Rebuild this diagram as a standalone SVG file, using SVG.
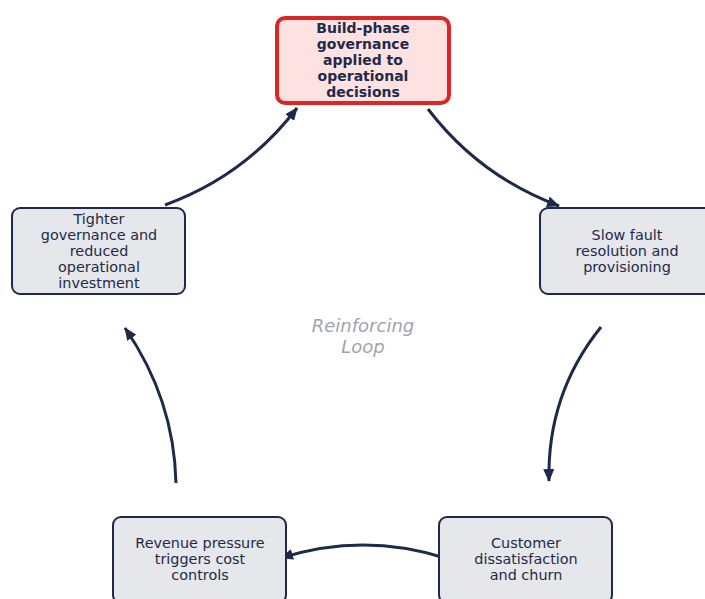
<svg xmlns="http://www.w3.org/2000/svg" width="705" height="599" viewBox="0 0 705 599">
  <style>
    .node rect { fill: #e5e7eb; stroke: #1e2a4a; stroke-width: 2; }
    .node.focus rect { fill: #fee2e2; stroke: #dc2626; stroke-width: 4; }
    .node text { font-family: "DejaVu Sans", sans-serif; font-size: 14.4px; fill: #1e2a4a; text-anchor: middle; }
    .node.focus text { font-weight: bold; font-size: 14px; }
    .link { fill: none; stroke: #1e2a4a; stroke-width: 3; marker-end: url(#head); }
    .caption { font-family: "DejaVu Sans", sans-serif; font-size: 18px; font-style: italic; fill: #a0a4ae; text-anchor: middle; }
  </style>
  <defs>
    <marker id="head" viewBox="0 0 13 11" refX="12" refY="5.5" markerWidth="13" markerHeight="11" markerUnits="userSpaceOnUse" orient="auto">
      <path d="M0,0 L13,5.5 L0,11 Z" fill="#1e2a4a"/>
    </marker>
  </defs>

  <rect width="705" height="599" fill="#ffffff"/>

  <!-- loop label -->
  <text class="caption" x="363" y="332">Reinforcing</text>
  <text class="caption" x="363" y="353">Loop</text>

  <!-- connectors -->
  <g id="connectors">
    <path class="link" d="M428,109 Q479,176 559,206"/>
    <path class="link" d="M601,327 Q547,394 549,481"/>
    <path class="link" d="M445,558 Q363,532 281,558"/>
    <path class="link" d="M176,483 Q174,399 125,328"/>
    <path class="link" d="M165,205 Q245,176 297,108"/>
  </g>

  <!-- nodes -->
  <g id="build-phase" class="node focus">
    <rect x="277" y="18" width="172" height="85" rx="8"/>
    <text x="363" y="33">Build-phase</text>
    <text x="363" y="49">governance</text>
    <text x="363" y="65">applied to</text>
    <text x="363" y="81">operational</text>
    <text x="363" y="97">decisions</text>
  </g>

  <g id="slow-fault" class="node">
    <rect x="540" y="208" width="173" height="86" rx="8"/>
    <text x="627" y="240">Slow fault</text>
    <text x="627" y="256">resolution and</text>
    <text x="627" y="272">provisioning</text>
  </g>

  <g id="customer-churn" class="node">
    <rect x="439" y="517" width="173" height="86" rx="8"/>
    <text x="526" y="548">Customer</text>
    <text x="526" y="564">dissatisfaction</text>
    <text x="526" y="580">and churn</text>
  </g>

  <g id="revenue-pressure" class="node">
    <rect x="113" y="517" width="173" height="86" rx="8"/>
    <text x="200" y="548">Revenue pressure</text>
    <text x="200" y="564">triggers cost</text>
    <text x="200" y="580">controls</text>
  </g>

  <g id="tighter-governance" class="node">
    <rect x="12" y="208" width="173" height="86" rx="8"/>
    <text x="99" y="224">Tighter</text>
    <text x="99" y="240">governance and</text>
    <text x="99" y="256">reduced</text>
    <text x="99" y="272">operational</text>
    <text x="99" y="288">investment</text>
  </g>
</svg>
